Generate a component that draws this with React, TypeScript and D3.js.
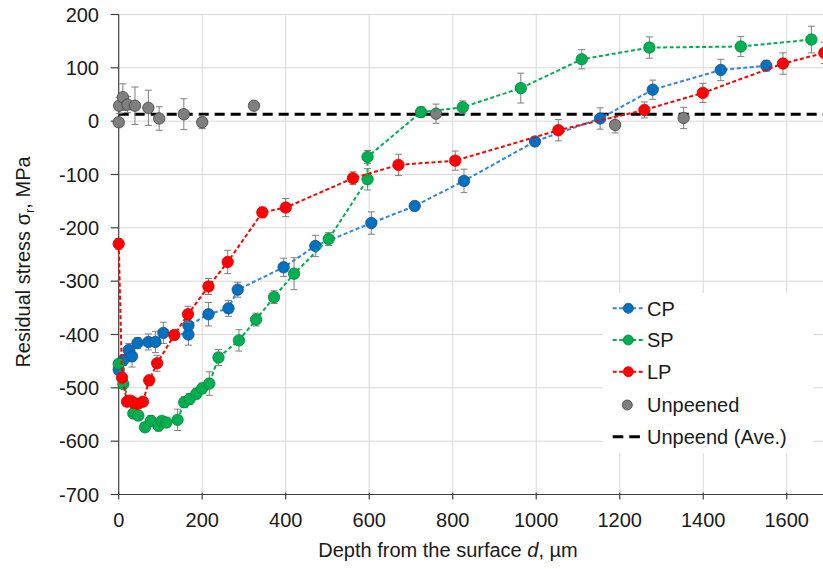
import React from "react";
import * as d3 from "d3";

// ---- Data ----
const cpDepth = [0, 11, 24, 32, 45, 71, 88, 107, 167, 167, 215, 263, 285, 395, 471, 605, 709, 827, 997, 1153, 1279, 1442, 1551];
const cpStress = [-466, -448, -429, -441, -416, -414, -414, -397, -400, -383, -362, -351, -316, -274, -234, -191, -159, -112, -38, 5, 59, 96, 104];
const cpErr = [8, 10, 12, 20, 10, 15, 20, 20, 20, 12, 22, 15, 14, 17, 20, 21, 8, 22, 8, 20, 18, 20, 10];

const spDepth = [0, 11, 35, 47, 63, 77, 95, 103, 114, 141, 157, 170, 186, 200, 217, 239, 288, 329, 372, 420, 503, 596, 596, 724, 824, 963, 1109, 1271, 1490, 1659];
const spStress = [-455, -493, -548, -552, -574, -562, -571, -562, -565, -560, -527, -521, -511, -501, -492, -443, -411, -372, -330, -286, -221, -109, -67, 17, 26, 62, 116, 138, 140, 153];
const spErr = [8, 8, 8, 8, 8, 10, 10, 8, 8, 20, 10, 10, 10, 10, 22, 15, 20, 12, 12, 30, 12, 20, 12, 10, 12, 28, 18, 20, 19, 25];

const lpDepth = [0, 8, 20, 28, 36, 46, 58, 73, 92, 133, 166, 215, 261, 344, 400, 561, 670, 806, 1053, 1259, 1399, 1591, 1690];
const lpStress = [-230, -481, -526, -524, -528, -530, -526, -486, -454, -401, -362, -310, -264, -171, -162, -107, -82, -74, -17, 21, 53, 108, 128];
const lpErr = [10, 10, 8, 8, 8, 8, 8, 10, 15, 8, 15, 15, 22, 10, 17, 12, 20, 18, 20, 15, 18, 20, 20];

const unDepth = [0, 1, 10, 21, 39, 71, 97, 156, 200, 324, 760, 1189, 1353];
const unStress = [-2, 29, 45, 31, 29, 25, 5, 13, -2, 29, 14, -7, 6];
const unErr = [5, 15, 25, 15, 35, 33, 22, 29, 12, 5, 18, 15, 20];

const unAverage = 13;

const xTicks = [0, 200, 400, 600, 800, 1000, 1200, 1400, 1600];
const yTicks = [-700, -600, -500, -400, -300, -200, -100, 0, 100, 200];

const seriesNames = ["CP", "SP", "LP", "Unpeened"];
const averageName = "Unpeend (Ave.)";

// ---- Layout ----
const W = 823;
const H = 569;
const FONT = "'Liberation Sans', Arial, sans-serif";

type Series = {
  name: string;
  depth: number[];
  stress: number[];
  err: number[];
  fill: string;
  stroke: string;
  line: string | null;
};

const series: Series[] = [
  { name: seriesNames[3], depth: unDepth, stress: unStress, err: unErr, fill: "#7F7F7F", stroke: "#404040", line: null },
  { name: seriesNames[0], depth: cpDepth, stress: cpStress, err: cpErr, fill: "#0070C0", stroke: "#1F4E89", line: "#2E86DE" },
  { name: seriesNames[1], depth: spDepth, stress: spStress, err: spErr, fill: "#00B050", stroke: "#00843C", line: "#00B050" },
  { name: seriesNames[2], depth: lpDepth, stress: lpStress, err: lpErr, fill: "#FF0000", stroke: "#E00000", line: "#FF0000" },
];

export default function App() {
  const x = d3.scaleLinear().domain([0, 1700]).range([118.7, 828.5]);
  const y = d3.scaleLinear().domain([-700, 200]).range([494.5, 14.5]);
  const x0 = x(0);
  const yBottom = y(-700);

  const lineGen = d3
    .line<[number, number]>()
    .x((d) => x(d[0]))
    .y((d) => y(d[1]));

  const legendItems = [
    { s: series[1], kind: "line" },
    { s: series[2], kind: "line" },
    { s: series[3], kind: "line" },
    { s: series[0], kind: "marker" },
  ];
  const legendY = [308.3, 340, 371.7, 405, 436.7];

  return (
    <svg
      width={W}
      height={H}
      style={{ position: "absolute", left: 0, top: 0, background: "#fff" }}
      fontFamily={FONT}
    >
      <defs>
        <clipPath id="plot">
          <rect x={0} y={0} width={W} height={H} />
        </clipPath>
      </defs>
      <rect x={0} y={0} width={W} height={H} fill="#fff" />

      {/* gridlines */}
      {xTicks.filter((t) => t > 0).map((t) => (
        <line key={"gx" + t} x1={x(t)} x2={x(t)} y1={y(200)} y2={yBottom} stroke="#D9D9D9" strokeWidth={1} />
      ))}
      {yTicks.filter((t) => t > -700).map((t) => (
        <line key={"gy" + t} x1={x0} x2={W} y1={y(t)} y2={y(t)} stroke="#D9D9D9" strokeWidth={1} />
      ))}

      {/* axes */}
      <line x1={x0} x2={x0} y1={y(200)} y2={yBottom} stroke="#404040" strokeWidth={1.2} />
      <line x1={x0} x2={W} y1={yBottom} y2={yBottom} stroke="#404040" strokeWidth={1.2} />
      {yTicks.map((t) => (
        <line key={"ty" + t} x1={x0 - 8} x2={x0} y1={y(t)} y2={y(t)} stroke="#404040" strokeWidth={1.2} />
      ))}
      {xTicks.map((t) => (
        <line key={"tx" + t} x1={x(t)} x2={x(t)} y1={yBottom - 2} y2={yBottom + 5} stroke="#404040" strokeWidth={1.2} />
      ))}

      {/* tick labels */}
      {yTicks.map((t) => (
        <text key={"ly" + t} x={99} y={y(t)} dy="0.36em" textAnchor="end" fontSize={20} fill="#1a1a1a">
          {t}
        </text>
      ))}
      {xTicks.map((t) => (
        <text key={"lx" + t} x={x(t)} y={527} textAnchor="middle" fontSize={20} fill="#1a1a1a">
          {t}
        </text>
      ))}

      {/* axis titles */}
      <text x={448} y={557} textAnchor="middle" fontSize={20} fill="#1a1a1a">
        Depth from the surface <tspan fontStyle="italic">d</tspan>, µm
      </text>
      <text transform="translate(30,262) rotate(-90)" textAnchor="middle" fontSize={20} fill="#1a1a1a">
        Residual stress σ<tspan fontSize={13} dy={4}>r</tspan>
        <tspan dy={-4}>, MPa</tspan>
      </text>

      <g clipPath="url(#plot)">
        {/* average line */}
        <line
          x1={x0}
          x2={W}
          y1={y(unAverage)}
          y2={y(unAverage)}
          stroke="#000"
          strokeWidth={3}
          strokeDasharray="10,6"
        />

        {series.map((s) => {
          const pts: [number, number][] = s.depth.map((d, i) => [d, s.stress[i]]);
          return (
            <g key={s.name}>
              {s.line && (
                <path d={lineGen(pts) || ""} fill="none" stroke={s.line} strokeWidth={2} strokeDasharray="4,2.5" />
              )}
              {pts.map((p, i) => {
                const cx = x(p[0]);
                const yt = y(p[1] + s.err[i]);
                const yb = y(p[1] - s.err[i]);
                return (
                  <g key={"e" + i} stroke="#7F7F7F" strokeWidth={1}>
                    <line x1={cx} x2={cx} y1={yt} y2={yb} />
                    <line x1={cx - 3.5} x2={cx + 3.5} y1={yt} y2={yt} />
                    <line x1={cx - 3.5} x2={cx + 3.5} y1={yb} y2={yb} />
                  </g>
                );
              })}
              {pts.map((p, i) => (
                <circle key={"m" + i} cx={x(p[0])} cy={y(p[1])} r={5.7} fill={s.fill} stroke={s.stroke} strokeWidth={0.8} />
              ))}
            </g>
          );
        })}
      </g>

      {/* legend */}
      <rect x={603} y={293} width={210} height={160} fill="#fff" />
      {legendItems.map((it, i) => (
        <g key={"lg" + i}>
          {it.kind === "line" && (
            <line x1={612.7} x2={643.3} y1={legendY[i]} y2={legendY[i]} stroke={it.s.line || "#000"} strokeWidth={2} strokeDasharray="4,2.5" />
          )}
          <circle cx={it.kind === "line" ? 628.3 : 627.3} cy={legendY[i]} r={5} fill={it.s.fill} stroke={it.s.stroke} strokeWidth={0.8} />
          <text x={647} y={legendY[i]} dy="0.36em" fontSize={20} fill="#1a1a1a">
            {it.s.name}
          </text>
        </g>
      ))}
      <line x1={612.7} x2={641} y1={legendY[4]} y2={legendY[4]} stroke="#000" strokeWidth={3} strokeDasharray="10.6,6" />
      <text x={647} y={legendY[4]} dy="0.36em" fontSize={20} fill="#1a1a1a">
        {averageName}
      </text>
    </svg>
  );
}
